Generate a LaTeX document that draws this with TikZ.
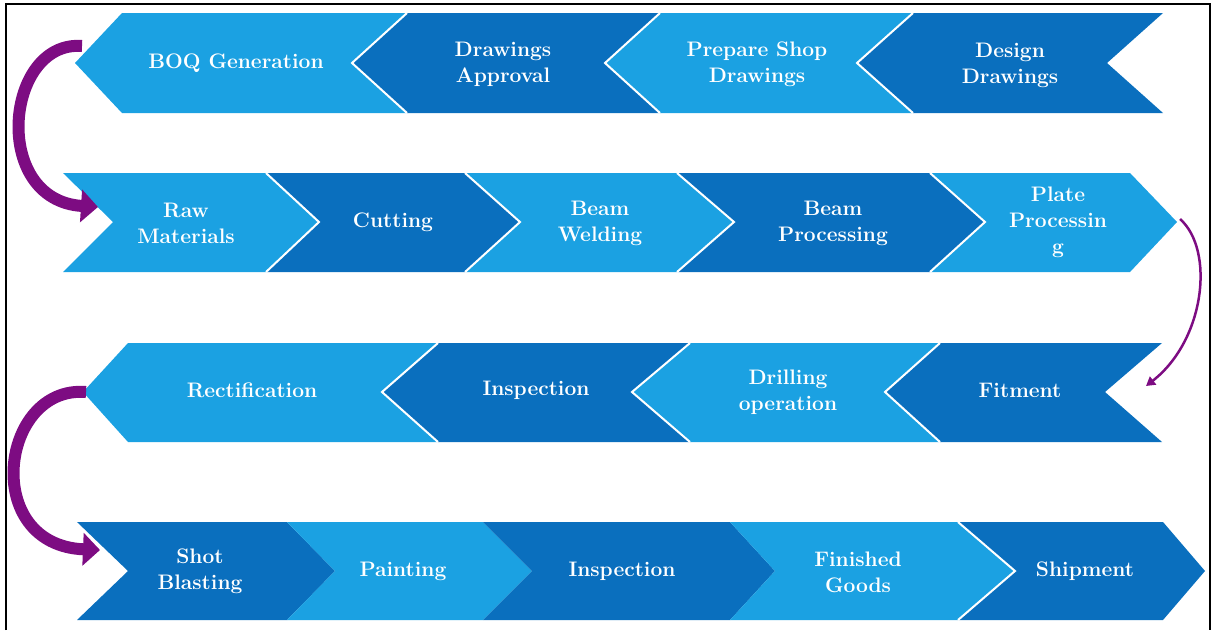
\documentclass[tikz,border=0pt]{standalone}
\usepackage{fontspec}
\usepackage{xcolor}
\usepackage{tikz}
\usetikzlibrary{arrows.meta}

\definecolor{lightblu}{RGB}{27,161,226}
\definecolor{darkblu}{RGB}{10,111,190}
\definecolor{flowpurple}{RGB}{125,12,130}

\tikzset{
  lightchev/.style={fill=lightblu},
  darkchev/.style={fill=darkblu},
  sepline/.style={draw=white,line width=2pt},
  lbl/.style={text=white,align=center,font=\bfseries\fontsize{21}{26}\selectfont},
  bigarrow/.style={draw=flowpurple,line width=12pt,-{Triangle[width=32pt,length=17pt]}},
  thinarrow/.style={draw=flowpurple,line width=2.5pt,-{Triangle[width=10pt,length=9pt]}}
}

\begin{document}
\begin{tikzpicture}[x=1pt,y=-1pt]
\useasboundingbox (0,0) rectangle (1214,630);
\draw[line width=2pt] (6,630) -- (6,4) -- (1210,4) -- (1210,630);

% row 1, pointing left
\fill[lightchev] (75,63) -- (122,13) -- (407,13) -- (352,63) -- (407,113) -- (122,113) -- cycle;
\fill[darkchev] (352,63) -- (407,13) -- (660,13) -- (605,63) -- (660,113) -- (407,113) -- cycle;
\fill[lightchev] (605,63) -- (660,13) -- (913,13) -- (857,63) -- (913,113) -- (660,113) -- cycle;
\fill[darkchev] (857,63) -- (913,13) -- (1163,13) -- (1107,63) -- (1163,113) -- (913,113) -- cycle;
\draw[sepline] (407,13) -- (352,63) -- (407,113);
\draw[sepline] (660,13) -- (605,63) -- (660,113);
\draw[sepline] (913,13) -- (857,63) -- (913,113);

% row 2, pointing right
\fill[lightchev] (113,222) -- (63,173) -- (266,173) -- (319,222) -- (266,272) -- (63,272) -- cycle;
\fill[darkchev] (319,222) -- (266,173) -- (465,173) -- (520,222) -- (465,272) -- (266,272) -- cycle;
\fill[lightchev] (520,222) -- (465,173) -- (677,173) -- (734,222) -- (677,272) -- (465,272) -- cycle;
\fill[darkchev] (734,222) -- (677,173) -- (930,173) -- (985,222) -- (930,272) -- (677,272) -- cycle;
\fill[lightchev] (985,222) -- (930,173) -- (1130,173) -- (1177,222) -- (1130,272) -- (930,272) -- cycle;
\draw[sepline] (266,173) -- (319,222) -- (266,272);
\draw[sepline] (465,173) -- (520,222) -- (465,272);
\draw[sepline] (677,173) -- (734,222) -- (677,272);
\draw[sepline] (930,173) -- (985,222) -- (930,272);

% row 3, pointing left
\fill[lightchev] (83,392) -- (128,343) -- (438,343) -- (382,392) -- (438,442) -- (128,442) -- cycle;
\fill[darkchev] (382,392) -- (438,343) -- (690,343) -- (632,392) -- (690,442) -- (438,442) -- cycle;
\fill[lightchev] (632,392) -- (690,343) -- (940,343) -- (885,392) -- (940,442) -- (690,442) -- cycle;
\fill[darkchev] (885,392) -- (940,343) -- (1162,343) -- (1105,392) -- (1162,442) -- (940,442) -- cycle;
\draw[sepline] (438,343) -- (382,392) -- (438,442);
\draw[sepline] (690,343) -- (632,392) -- (690,442);
\draw[sepline] (940,343) -- (885,392) -- (940,442);

% row 4, pointing right
\fill[darkchev] (128,571) -- (77,522) -- (287,522) -- (335,571) -- (287,620) -- (77,620) -- cycle;
\fill[lightchev] (335,571) -- (287,522) -- (483,522) -- (532,571) -- (483,620) -- (287,620) -- cycle;
\fill[darkchev] (532,571) -- (483,522) -- (730,522) -- (775,571) -- (730,620) -- (483,620) -- cycle;
\fill[lightchev] (775,571) -- (730,522) -- (958,522) -- (1015,571) -- (958,620) -- (730,620) -- cycle;
\fill[darkchev] (1015,571) -- (958,522) -- (1163,522) -- (1205,571) -- (1163,620) -- (958,620) -- cycle;
\draw[sepline] (958,522) -- (1015,571) -- (958,620);

% labels
\node[lbl] (boq) at (236,63) {BOQ Generation};
\node[lbl] (appr) at (503,64) {Drawings\\Approval};
\node[lbl] (shop) at (757,64) {Prepare Shop\\Drawings};
\node[lbl] (design) at (1010,65) {Design\\Drawings};
\node[lbl] (raw) at (186,223) {Raw\\Materials};
\node[lbl] (cut) at (393,222) {Cutting};
\node[lbl] (weld) at (600,223) {Beam\\Welding};
\node[lbl] (bproc) at (833,223) {Beam\\Processing};
\node[lbl] (pproc) at (1058,222) {Plate\\Processin\\g};
\node[lbl] (rect) at (252,390) {Rectification};
\node[lbl] (insp) at (536,390) {Inspection};
\node[lbl] (drill) at (788,392) {Drilling\\operation};
\node[lbl] (fit) at (1020,390) {Fitment};
\node[lbl] (shot) at (200,571) {Shot\\Blasting};
\node[lbl] (paint) at (403,571) {Painting};
\node[lbl] (insp2) at (622,571) {Inspection};
\node[lbl] (fin) at (858,572) {Finished\\Goods};
\node[lbl] (ship) at (1085,571) {Shipment};

% turn arrows between rows
\coordinate (turnAs) at (82,46);
\coordinate (turnAe) at (98,207);
\coordinate (turnBs) at (1180,219);
\coordinate (turnBe) at (1146,386);
\coordinate (turnCs) at (86,392);
\coordinate (turnCe) at (100,550);
\draw[bigarrow] (turnAs) .. controls (5,40) and (-10,200) .. (turnAe);
\draw[thinarrow] (turnBs) .. controls (1215,250) and (1205,340) .. (turnBe);
\draw[bigarrow] (turnCs) .. controls (0,385) and (-20,545) .. (turnCe);
\end{tikzpicture}
\end{document}
